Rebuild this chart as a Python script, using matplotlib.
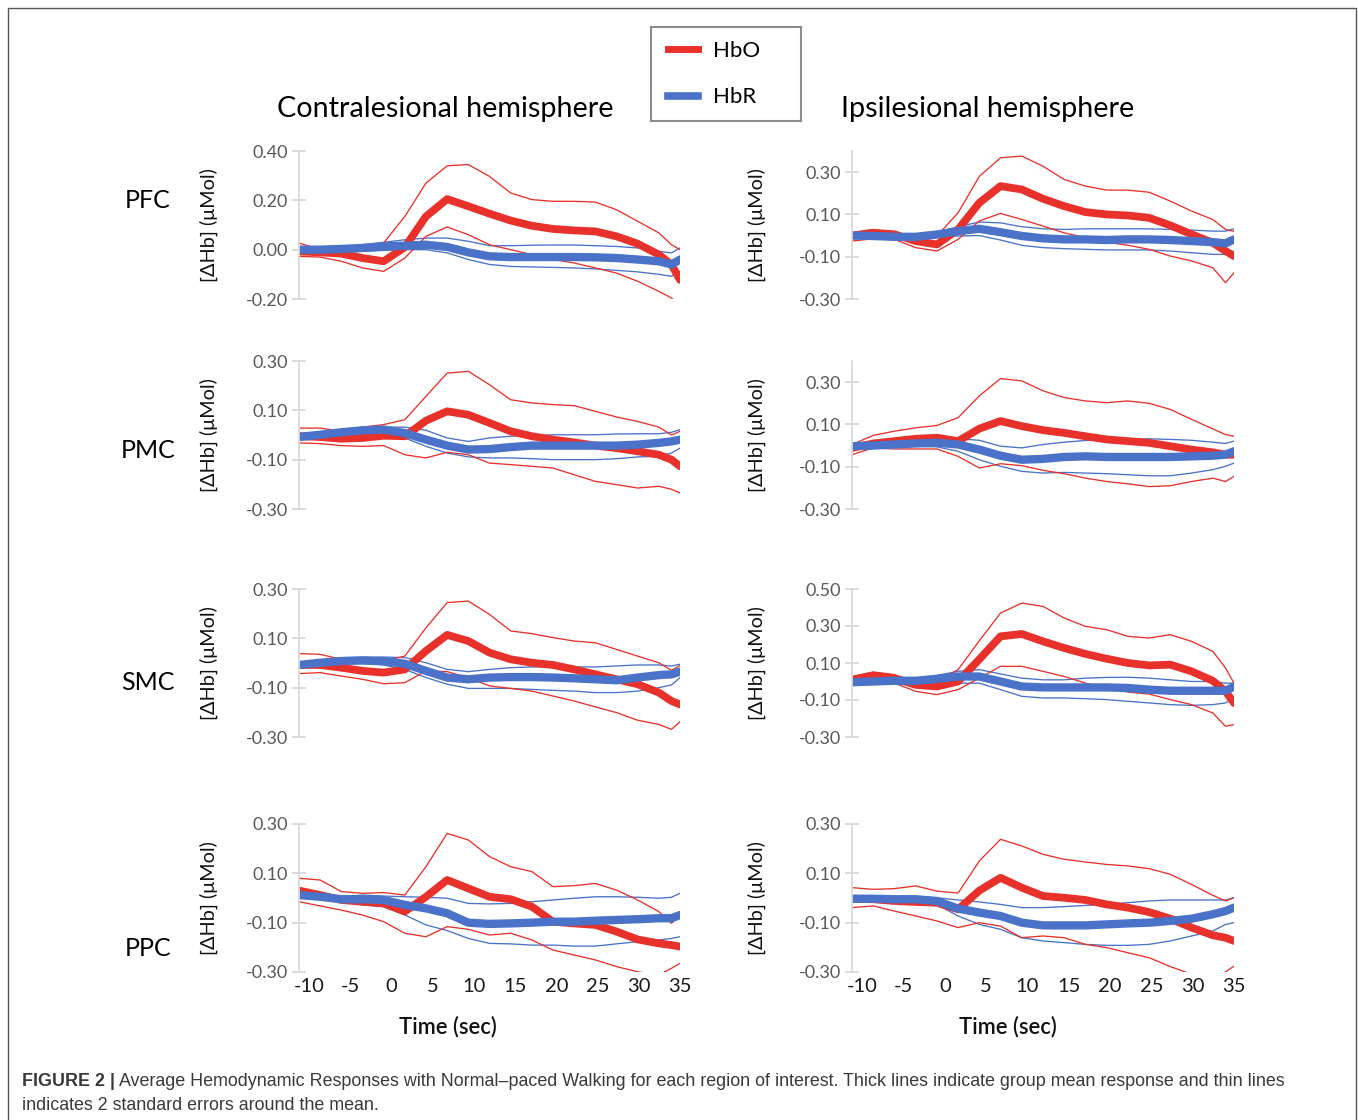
import numpy as np
import matplotlib.pyplot as plt
from matplotlib.lines import Line2D
from matplotlib.patches import Rectangle
from matplotlib.ticker import FormatStrFormatter

plt.rcParams['font.family'] = ['Lato', 'DejaVu Sans']

# time axis (sec)
time = [-10, -7.5, -5, -2.5, 0, 2.5, 5, 7.5, 10, 12.5, 15, 17.5, 20, 22.5, 25, 27.5, 30, 32.5, 34, 35]
time_labels = ['-10', '-5', '0', '5', '10', '15', '20', '25', '30', '35']

# ---- contralesional ----
pfc_c_hbo = [-0.007, -0.011, -0.016, -0.034, -0.047, 0.01, 0.135, 0.205, 0.176, 0.146, 0.118, 0.097, 0.084, 0.078, 0.074, 0.054, 0.024, -0.020, -0.061, -0.122]
pfc_c_hbo_hi = [0.027, 0.0, -0.007, 0.0, 0.027, 0.135, 0.27, 0.34, 0.345, 0.297, 0.23, 0.203, 0.196, 0.196, 0.193, 0.162, 0.115, 0.068, 0.02, 0.0]
pfc_c_hbo_lo = [-0.027, -0.03, -0.047, -0.074, -0.088, -0.034, 0.054, 0.092, 0.061, 0.02, 0.0, -0.02, -0.04, -0.054, -0.074, -0.095, -0.128, -0.169, -0.196, -0.23]
pfc_c_hbr = [0.0, 0.0, 0.003, 0.007, 0.013, 0.016, 0.02, 0.011, -0.011, -0.027, -0.03, -0.03, -0.03, -0.03, -0.031, -0.034, -0.04, -0.047, -0.06, -0.04]
pfc_c_hbr_hi = [0.007, 0.007, 0.011, 0.02, 0.03, 0.04, 0.047, 0.047, 0.034, 0.016, 0.016, 0.018, 0.019, 0.019, 0.016, 0.013, 0.007, -0.007, -0.013, 0.007]
pfc_c_hbr_lo = [-0.011, -0.011, -0.01, -0.007, -0.003, 0.0, 0.0, -0.013, -0.04, -0.06, -0.068, -0.07, -0.072, -0.074, -0.078, -0.084, -0.09, -0.1, -0.108, -0.088]

pmc_c_hbo = [-0.005, -0.008, -0.015, -0.012, -0.003, -0.005, 0.058, 0.096, 0.082, 0.049, 0.015, -0.005, -0.019, -0.03, -0.043, -0.053, -0.066, -0.08, -0.1, -0.127]
pmc_c_hbo_hi = [0.028, 0.028, 0.015, 0.032, 0.042, 0.062, 0.157, 0.251, 0.258, 0.204, 0.143, 0.13, 0.123, 0.119, 0.096, 0.073, 0.055, 0.032, 0.0, 0.015]
pmc_c_hbo_lo = [-0.032, -0.035, -0.043, -0.046, -0.043, -0.08, -0.093, -0.07, -0.08, -0.114, -0.12, -0.127, -0.134, -0.161, -0.188, -0.201, -0.215, -0.208, -0.22, -0.235]
pmc_c_hbr = [-0.008, 0.001, 0.011, 0.019, 0.022, 0.008, -0.019, -0.043, -0.059, -0.057, -0.049, -0.043, -0.043, -0.043, -0.043, -0.043, -0.039, -0.032, -0.026, -0.019]
pmc_c_hbr_hi = [-0.003, 0.008, 0.019, 0.028, 0.032, 0.032, 0.019, -0.012, -0.026, -0.012, -0.005, -0.003, 0.001, 0.001, 0.001, 0.004, 0.005, 0.005, 0.011, 0.022]
pmc_c_hbr_lo = [-0.012, -0.005, 0.001, 0.008, 0.011, -0.012, -0.046, -0.073, -0.089, -0.093, -0.093, -0.096, -0.1, -0.1, -0.1, -0.096, -0.089, -0.086, -0.073, -0.053]

smc_c_hbo = [-0.008, -0.008, -0.019, -0.032, -0.039, -0.026, 0.049, 0.114, 0.089, 0.042, 0.015, 0.001, -0.008, -0.026, -0.046, -0.066, -0.086, -0.12, -0.154, -0.168]
smc_c_hbo_hi = [0.038, 0.035, 0.015, 0.005, 0.008, 0.028, 0.143, 0.245, 0.251, 0.197, 0.13, 0.119, 0.103, 0.089, 0.082, 0.055, 0.028, 0.001, -0.03, -0.01]
smc_c_hbo_lo = [-0.043, -0.039, -0.053, -0.066, -0.084, -0.08, -0.032, -0.035, -0.059, -0.093, -0.103, -0.114, -0.134, -0.154, -0.178, -0.201, -0.232, -0.249, -0.269, -0.238]
smc_c_hbr = [-0.008, 0.001, 0.008, 0.011, 0.008, -0.003, -0.032, -0.059, -0.066, -0.059, -0.057, -0.057, -0.059, -0.062, -0.066, -0.07, -0.059, -0.049, -0.046, -0.035]
smc_c_hbr_hi = [0.001, 0.008, 0.015, 0.022, 0.024, 0.022, 0.001, -0.026, -0.035, -0.026, -0.019, -0.016, -0.016, -0.016, -0.016, -0.012, -0.008, -0.008, -0.012, -0.005]
smc_c_hbr_lo = [-0.019, -0.008, -0.003, -0.003, -0.008, -0.026, -0.059, -0.086, -0.103, -0.103, -0.103, -0.107, -0.111, -0.114, -0.12, -0.12, -0.114, -0.1, -0.089, -0.059]

ppc_c_hbo = [0.03, 0.012, -0.008, -0.015, -0.022, -0.055, 0.005, 0.073, 0.039, 0.005, -0.005, -0.035, -0.096, -0.103, -0.109, -0.136, -0.168, -0.184, -0.191, -0.197]
ppc_c_hbo_hi = [0.08, 0.073, 0.026, 0.019, 0.022, 0.012, 0.127, 0.262, 0.235, 0.168, 0.127, 0.107, 0.046, 0.05, 0.059, 0.032, -0.008, -0.055, -0.103, -0.069]
ppc_c_hbo_lo = [-0.015, -0.032, -0.049, -0.069, -0.096, -0.143, -0.157, -0.116, -0.127, -0.15, -0.143, -0.17, -0.211, -0.231, -0.251, -0.278, -0.299, -0.312, -0.285, -0.265]
ppc_c_hbr = [0.012, 0.005, -0.005, -0.005, -0.008, -0.028, -0.042, -0.062, -0.1, -0.105, -0.103, -0.1, -0.096, -0.096, -0.092, -0.089, -0.086, -0.082, -0.082, -0.069]
ppc_c_hbr_hi = [0.019, 0.012, 0.005, 0.012, 0.008, 0.005, 0.003, -0.001, -0.022, -0.024, -0.022, -0.015, -0.008, -0.001, 0.005, 0.005, 0.003, -0.001, 0.003, 0.019]
ppc_c_hbr_lo = [0.005, -0.001, -0.015, -0.028, -0.035, -0.069, -0.109, -0.132, -0.164, -0.184, -0.186, -0.191, -0.191, -0.195, -0.195, -0.186, -0.177, -0.17, -0.164, -0.157]

# ---- ipsilesional ----
pfc_i_hbo = [0.0, 0.013, 0.006, -0.026, -0.042, 0.029, 0.155, 0.234, 0.218, 0.174, 0.139, 0.111, 0.10, 0.095, 0.084, 0.048, 0.006, -0.034, -0.073, -0.097]
pfc_i_hbo_hi = [0.013, 0.029, 0.013, -0.002, -0.002, 0.108, 0.28, 0.368, 0.376, 0.328, 0.265, 0.234, 0.215, 0.215, 0.205, 0.163, 0.116, 0.076, 0.029, 0.02]
pfc_i_hbo_lo = [-0.026, -0.015, -0.018, -0.057, -0.073, -0.018, 0.069, 0.105, 0.076, 0.045, 0.013, -0.01, -0.031, -0.046, -0.065, -0.097, -0.12, -0.152, -0.223, -0.176]
pfc_i_hbr = [0.0, -0.002, -0.006, -0.006, 0.005, 0.021, 0.032, 0.016, -0.002, -0.013, -0.018, -0.018, -0.021, -0.018, -0.018, -0.021, -0.026, -0.031, -0.037, -0.018]
pfc_i_hbr_hi = [0.005, 0.002, 0.0, 0.005, 0.016, 0.042, 0.064, 0.06, 0.042, 0.032, 0.029, 0.032, 0.032, 0.032, 0.032, 0.029, 0.026, 0.021, 0.021, 0.032]
pfc_i_hbr_lo = [-0.006, -0.007, -0.01, -0.013, -0.006, -0.002, 0.0, -0.021, -0.046, -0.057, -0.062, -0.065, -0.068, -0.068, -0.068, -0.073, -0.081, -0.089, -0.089, -0.073]

pmc_i_hbo = [-0.011, 0.01, 0.021, 0.032, 0.037, 0.021, 0.08, 0.116, 0.092, 0.073, 0.06, 0.044, 0.029, 0.021, 0.013, -0.003, -0.019, -0.032, -0.043, -0.043]
pmc_i_hbo_hi = [0.005, 0.048, 0.068, 0.084, 0.095, 0.132, 0.235, 0.317, 0.306, 0.259, 0.227, 0.211, 0.203, 0.211, 0.2, 0.171, 0.124, 0.079, 0.052, 0.044]
pmc_i_hbo_lo = [-0.043, -0.011, -0.016, -0.016, -0.016, -0.051, -0.106, -0.086, -0.095, -0.117, -0.133, -0.154, -0.17, -0.181, -0.194, -0.19, -0.17, -0.154, -0.17, -0.146]
pmc_i_hbr = [-0.003, 0.0, 0.005, 0.01, 0.013, 0.005, -0.019, -0.048, -0.067, -0.063, -0.054, -0.051, -0.054, -0.054, -0.054, -0.054, -0.051, -0.048, -0.043, -0.027]
pmc_i_hbr_hi = [0.005, 0.013, 0.016, 0.025, 0.032, 0.032, 0.025, -0.003, -0.011, 0.005, 0.016, 0.024, 0.029, 0.029, 0.032, 0.029, 0.025, 0.016, 0.01, 0.021]
pmc_i_hbr_lo = [-0.011, -0.006, -0.003, -0.003, -0.006, -0.027, -0.067, -0.098, -0.122, -0.13, -0.127, -0.13, -0.133, -0.138, -0.143, -0.143, -0.13, -0.114, -0.098, -0.083]

smc_i_hbo = [0.009, 0.033, 0.018, -0.018, -0.027, 0.0, 0.12, 0.244, 0.257, 0.217, 0.181, 0.149, 0.123, 0.1, 0.087, 0.091, 0.055, 0.004, -0.053, -0.116]
smc_i_hbo_hi = [0.027, 0.051, 0.037, -0.009, 0.0, 0.064, 0.22, 0.37, 0.424, 0.406, 0.343, 0.298, 0.28, 0.244, 0.235, 0.253, 0.217, 0.163, 0.073, -0.009]
smc_i_hbo_lo = [-0.009, 0.009, -0.009, -0.053, -0.071, -0.044, 0.018, 0.082, 0.082, 0.055, 0.027, -0.009, -0.036, -0.057, -0.068, -0.098, -0.125, -0.17, -0.242, -0.233]
smc_i_hbr = [-0.004, 0.0, 0.004, 0.004, 0.014, 0.027, 0.027, 0.0, -0.027, -0.032, -0.032, -0.032, -0.032, -0.035, -0.044, -0.05, -0.05, -0.05, -0.05, -0.027]
smc_i_hbr_hi = [0.009, 0.009, 0.009, 0.018, 0.033, 0.055, 0.064, 0.041, 0.018, 0.009, 0.009, 0.018, 0.022, 0.023, 0.018, 0.009, 0.0, 0.0, -0.009, -0.009]
smc_i_hbr_lo = [-0.014, -0.014, -0.009, -0.014, -0.014, -0.009, -0.009, -0.044, -0.08, -0.089, -0.089, -0.093, -0.098, -0.107, -0.116, -0.125, -0.129, -0.125, -0.116, -0.089]

ppc_i_hbo = [-0.003, -0.005, -0.012, -0.016, -0.019, -0.046, 0.03, 0.082, 0.042, 0.008, 0.001, -0.008, -0.026, -0.039, -0.057, -0.084, -0.12, -0.151, -0.161, -0.174]
ppc_i_hbo_hi = [0.042, 0.035, 0.038, 0.049, 0.028, 0.02, 0.15, 0.238, 0.211, 0.177, 0.157, 0.146, 0.136, 0.13, 0.119, 0.096, 0.055, 0.011, -0.012, 0.001]
ppc_i_hbo_lo = [-0.039, -0.032, -0.053, -0.073, -0.093, -0.12, -0.1, -0.114, -0.161, -0.154, -0.161, -0.188, -0.201, -0.222, -0.242, -0.278, -0.309, -0.315, -0.3, -0.276]
ppc_i_hbr = [-0.003, -0.003, -0.005, -0.005, -0.012, -0.043, -0.059, -0.073, -0.1, -0.111, -0.111, -0.111, -0.107, -0.103, -0.1, -0.093, -0.084, -0.066, -0.053, -0.039]
ppc_i_hbr_hi = [0.005, 0.005, 0.005, 0.005, 0.001, -0.008, -0.016, -0.026, -0.039, -0.039, -0.035, -0.03, -0.026, -0.019, -0.012, -0.008, -0.008, -0.008, -0.008, 0.001]
ppc_i_hbr_lo = [-0.008, -0.008, -0.008, -0.012, -0.026, -0.073, -0.107, -0.127, -0.161, -0.174, -0.181, -0.188, -0.192, -0.192, -0.188, -0.174, -0.154, -0.134, -0.107, -0.1]

regions = ['PFC', 'PMC', 'SMC', 'PPC']

# (hbo, hbo_hi, hbo_lo, hbr, hbr_hi, hbr_lo, ylim, yticks)
contra = [
    (pfc_c_hbo, pfc_c_hbo_hi, pfc_c_hbo_lo, pfc_c_hbr, pfc_c_hbr_hi, pfc_c_hbr_lo, (-0.2, 0.4), [-0.2, 0.0, 0.2, 0.4]),
    (pmc_c_hbo, pmc_c_hbo_hi, pmc_c_hbo_lo, pmc_c_hbr, pmc_c_hbr_hi, pmc_c_hbr_lo, (-0.3, 0.3), [-0.3, -0.1, 0.1, 0.3]),
    (smc_c_hbo, smc_c_hbo_hi, smc_c_hbo_lo, smc_c_hbr, smc_c_hbr_hi, smc_c_hbr_lo, (-0.3, 0.3), [-0.3, -0.1, 0.1, 0.3]),
    (ppc_c_hbo, ppc_c_hbo_hi, ppc_c_hbo_lo, ppc_c_hbr, ppc_c_hbr_hi, ppc_c_hbr_lo, (-0.3, 0.3), [-0.3, -0.1, 0.1, 0.3]),
]
ipsi = [
    (pfc_i_hbo, pfc_i_hbo_hi, pfc_i_hbo_lo, pfc_i_hbr, pfc_i_hbr_hi, pfc_i_hbr_lo, (-0.3, 0.4), [-0.3, -0.1, 0.1, 0.3]),
    (pmc_i_hbo, pmc_i_hbo_hi, pmc_i_hbo_lo, pmc_i_hbr, pmc_i_hbr_hi, pmc_i_hbr_lo, (-0.3, 0.4), [-0.3, -0.1, 0.1, 0.3]),
    (smc_i_hbo, smc_i_hbo_hi, smc_i_hbo_lo, smc_i_hbr, smc_i_hbr_hi, smc_i_hbr_lo, (-0.3, 0.5), [-0.3, -0.1, 0.1, 0.3, 0.5]),
    (ppc_i_hbo, ppc_i_hbo_hi, ppc_i_hbo_lo, ppc_i_hbr, ppc_i_hbr_hi, ppc_i_hbr_lo, (-0.3, 0.3), [-0.3, -0.1, 0.1, 0.3]),
]

RED = '#E8312A'
BLUE = '#4A72C8'
W, H = 1358, 1120


def fx(px):
    return px / W


def fy(py):
    return 1 - py / H


fig = plt.figure(figsize=(W / 100, H / 100), dpi=100)

# outer frame
fig.add_artist(Rectangle((fx(8), -0.02), fx(1356) - fx(8), fy(8) + 0.02, transform=fig.transFigure,
                         fill=False, edgecolor='#555555', linewidth=1.0))

row_px = [(151, 299), (361, 509), (589, 737), (824, 972)]
col_px = [(299, 680), (852, 1234)]
row_label_y = [200, 451, 683, 948]
xtick_pos = np.linspace(-8.8, 35, 10)

for c, panels in enumerate([contra, ipsi]):
    x0, x1 = col_px[c]
    for r, p in enumerate(panels):
        y0, y1 = row_px[r]
        ax = fig.add_axes([fx(x0), fy(y1), fx(x1) - fx(x0), (y1 - y0) / H])
        hbo, hbo_hi, hbo_lo, hbr, hbr_hi, hbr_lo, ylim, yticks = p
        ax.plot(time, hbr_hi, color=BLUE, lw=0.95)
        ax.plot(time, hbr_lo, color=BLUE, lw=0.95)
        ax.plot(time, hbo_hi, color=RED, lw=0.95)
        ax.plot(time, hbo_lo, color=RED, lw=0.95)
        ax.plot(time, hbo, color=RED, lw=5.6, solid_capstyle='round', solid_joinstyle='round')
        ax.plot(time, hbr, color=BLUE, lw=6.0, solid_capstyle='round', solid_joinstyle='round')
        ax.set_xlim(-10, 35)
        ax.set_ylim(*ylim)
        ax.set_yticks(yticks)
        ax.yaxis.set_major_formatter(FormatStrFormatter('%.2f'))
        for s in ['top', 'right', 'bottom']:
            ax.spines[s].set_visible(False)
        ax.spines['left'].set_color('#d9d9d9')
        ax.spines['left'].set_linewidth(1.3)
        ax.tick_params(axis='y', direction='inout', length=10, width=1.3, color='#d9d9d9',
                       labelcolor='#595959', labelsize=13, pad=3)
        if r == 3:
            ax.set_xticks(xtick_pos, time_labels)
            ax.tick_params(axis='x', length=0, labelsize=14.5, labelcolor='#1a1a1a', pad=4)
        else:
            ax.set_xticks([])
        ax.set_ylabel('[ΔHb] (μMol)', fontsize=14.3, color='#111111')
        lab_x = 218 if c == 0 else 766
        ax.yaxis.set_label_coords((lab_x - x0) / (x1 - x0), 0.5)
        ax.patch.set_alpha(0)
        if c == 0:
            fig.text(fx(148), fy(row_label_y[r]), regions[r], ha='center', va='center', fontsize=18)

fig.text(fx(445), fy(109), 'Contralesional hemisphere', ha='center', va='center', fontsize=20.7)
fig.text(fx(988), fy(109), 'Ipsilesional hemisphere', ha='center', va='center', fontsize=20.7)
fig.text(fx(448), fy(1027), 'Time (sec)', ha='center', va='center', fontsize=15.8,
         weight='semibold', color='#111111')
fig.text(fx(1008), fy(1027), 'Time (sec)', ha='center', va='center', fontsize=15.8,
         weight='semibold', color='#111111')

# legend box
lax = fig.add_axes([fx(651), fy(121), fx(801) - fx(651), 94 / H])
lax.set_xticks([])
lax.set_yticks([])
for s in lax.spines.values():
    s.set_color('#8c8c8c')
    s.set_linewidth(1.5)
handles = [Line2D([], [], color=RED, lw=5.0), Line2D([], [], color=BLUE, lw=5.5)]
lax.legend(handles, ['HbO', 'HbR'], loc='center left', frameon=False, fontsize=16,
           handlelength=1.35, handletextpad=0.7, labelspacing=1.2, borderpad=0.3, borderaxespad=0.45)

# caption
cap_font = ['Liberation Sans Narrow', 'Liberation Sans', 'DejaVu Sans']
cap_size = 12.9
t1 = fig.text(fx(22), fy(1082), 'FIGURE 2 |', ha='left', va='center', fontsize=cap_size,
              weight='bold', color='#3a3a3a', family=cap_font)
fig.canvas.draw()
bb = t1.get_window_extent(renderer=fig.canvas.get_renderer())
fig.text(bb.x1 / fig.bbox.width + 0.003, fy(1082),
         'Average Hemodynamic Responses with Normal\u2013paced Walking for each region of interest. '
         'Thick lines indicate group mean response and thin lines',
         ha='left', va='center', fontsize=cap_size, color='#3a3a3a', family=cap_font)
fig.text(fx(22), fy(1105), 'indicates 2 standard errors around the mean.', ha='left', va='center',
         fontsize=cap_size, color='#3a3a3a', family=cap_font)

fig.savefig('out.png', dpi=100)
